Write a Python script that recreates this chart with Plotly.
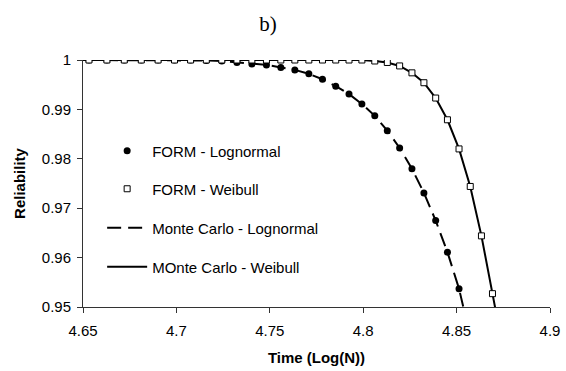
import plotly.graph_objects as go

# Time values, Log(N)
x_form = [4.6532, 4.6628, 4.6721, 4.6812, 4.6902, 4.6990, 4.7076, 4.7160, 4.7243, 4.7324,
          4.7404, 4.7482, 4.7559, 4.7634, 4.7709, 4.7782, 4.7853, 4.7924, 4.7993, 4.8062,
          4.8129, 4.8195, 4.8261, 4.8325, 4.8388, 4.8451, 4.8513, 4.8573, 4.8633, 4.8692]

form_lognormal = [1.0, 1.0, 1.0, 1.0, 1.0, 1.0, 1.0, 0.9999, 0.9998, 0.9995,
                  0.9992, 0.9990, 0.9985, 0.9980, 0.9972, 0.9961, 0.9947, 0.9931, 0.9911, 0.9887,
                  0.9857, 0.9822, 0.9780, 0.9731, 0.9675, 0.9611, 0.9537]

form_weibull = [1.0, 1.0, 1.0, 1.0, 1.0, 1.0, 1.0, 1.0, 1.0, 1.0,
                1.0, 1.0, 1.0, 1.0, 1.0, 1.0, 1.0, 1.0, 1.0, 0.9998,
                0.9995, 0.9988, 0.9974, 0.9954, 0.9923, 0.9879, 0.9820, 0.9744, 0.9644, 0.9527]

x_mc_lognormal = [4.65, 4.6532, 4.6628, 4.6721, 4.6812, 4.6902, 4.6990, 4.7076, 4.7160, 4.7243,
                  4.7324, 4.7404, 4.7482, 4.7559, 4.7634, 4.7709, 4.7782, 4.7853, 4.7924, 4.7993,
                  4.8062, 4.8129, 4.8195, 4.8261, 4.8325, 4.8388, 4.8451, 4.8513, 4.8573]
mc_lognormal = [1.0, 1.0, 1.0, 1.0, 1.0, 1.0, 1.0, 1.0, 0.9999, 0.9998,
                0.9995, 0.9992, 0.9990, 0.9985, 0.9980, 0.9972, 0.9961, 0.9947, 0.9931, 0.9911,
                0.9887, 0.9857, 0.9822, 0.9780, 0.9731, 0.9675, 0.9611, 0.9537, 0.9440]

x_mc_weibull = [4.65, 4.6532, 4.6628, 4.6721, 4.6812, 4.6902, 4.6990, 4.7076, 4.7160, 4.7243,
                4.7324, 4.7404, 4.7482, 4.7559, 4.7634, 4.7709, 4.7782, 4.7853, 4.7924, 4.7993,
                4.8062, 4.8129, 4.8195, 4.8261, 4.8325, 4.8388, 4.8451, 4.8513, 4.8573, 4.8633,
                4.8692, 4.8751]
mc_weibull = [1.0, 1.0, 1.0, 1.0, 1.0, 1.0, 1.0, 1.0, 1.0, 1.0,
              1.0, 1.0, 1.0, 1.0, 1.0, 1.0, 1.0, 1.0, 1.0, 1.0,
              0.9998, 0.9995, 0.9988, 0.9974, 0.9954, 0.9923, 0.9879, 0.9820, 0.9744, 0.9644,
              0.9527, 0.9410]

x_ticks = [4.65, 4.7, 4.75, 4.8, 4.85, 4.9]
y_ticks = [0.95, 0.96, 0.97, 0.98, 0.99, 1.0]

FONT = "Liberation Sans, Arial, sans-serif"
DASH = "14px,7px"

fig = go.Figure()

# lines drawn first (no legend)
fig.add_trace(go.Scatter(x=x_mc_lognormal, y=mc_lognormal, mode="lines",
                         line=dict(color="black", width=2, dash=DASH), showlegend=False))
fig.add_trace(go.Scatter(x=x_mc_weibull, y=mc_weibull, mode="lines",
                         line=dict(color="black", width=2), showlegend=False))

# markers on top
fig.add_trace(go.Scatter(x=x_form[:len(form_lognormal)], y=form_lognormal, mode="markers",
                         name="FORM - Lognormal", legend="legend",
                         marker=dict(symbol="circle", size=7, color="black")))
fig.add_trace(go.Scatter(x=x_form, y=form_weibull, mode="markers",
                         name="FORM - Weibull", legend="legend2",
                         marker=dict(symbol="square", size=6, color="white",
                                     line=dict(color="black", width=1))))

# legend entries for lines
fig.add_trace(go.Scatter(x=[None], y=[None], mode="lines", name="Monte Carlo - Lognormal",
                         legend="legend3", line=dict(color="black", width=2, dash=DASH)))
fig.add_trace(go.Scatter(x=[None], y=[None], mode="lines", name="MOnte Carlo - Weibull",
                         legend="legend4", line=dict(color="black", width=2)))

leg_common = dict(x=0.041, xanchor="left", yanchor="middle", bgcolor="rgba(0,0,0,0)",
                  itemwidth=40, font=dict(family=FONT, size=15, color="black"))

fig.update_layout(
    width=566, height=371,
    margin=dict(l=83, r=16, t=60, b=64),
    paper_bgcolor="white", plot_bgcolor="white",
    font=dict(family=FONT, size=15, color="black"),
    title=dict(text="b)", x=268 / 566, xanchor="center", y=1 - 24 / 371, yanchor="middle",
               font=dict(family="Liberation Serif, Times New Roman, serif", size=21, color="black")),
    legend=dict(y=0.6316, **leg_common),
    legend2=dict(y=0.4777, **leg_common),
    legend3=dict(y=0.3198, **leg_common),
    legend4=dict(y=0.1619, **leg_common),
    xaxis=dict(range=[4.65, 4.9], tickvals=x_ticks, ticktext=[f"{v:g}" for v in x_ticks],
               automargin=False, ticklabelstandoff=5,
               showline=True, linecolor="#333", linewidth=1, ticks="outside", ticklen=5,
               tickcolor="#333", showgrid=False, zeroline=False,
               tickfont=dict(family=FONT, size=15, color="black"),
               title=dict(text="<b>Time (Log(N))</b>", standoff=14,
                          font=dict(family=FONT, size=15, color="black"))),
    yaxis=dict(range=[0.95, 1.0], tickvals=y_ticks, ticktext=[f"{v:g}" for v in y_ticks],
               automargin=False, ticklabelstandoff=3,
               showline=True, linecolor="#333", linewidth=1, ticks="outside", ticklen=5,
               tickcolor="#333", showgrid=False, zeroline=False,
               tickfont=dict(family=FONT, size=15, color="black"),
               title=dict(text="<b>Reliability</b>", standoff=12,
                          font=dict(family=FONT, size=15, color="black"))),
)

fig.write_html("out.html", config={"displayModeBar": False},
               post_script="document.body.style.margin='0';document.body.style.overflow='hidden';")
